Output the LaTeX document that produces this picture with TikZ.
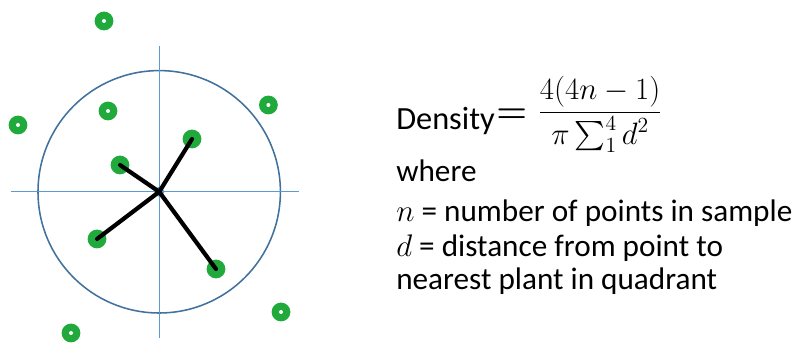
\RequirePackage{fix-cm}
\documentclass[tikz,border=0pt]{standalone}
\usepackage[no-math]{fontspec}
\setmainfont{Carlito}
\usepackage{amsmath}
\definecolor{plantgreen}{RGB}{32,170,60}
\definecolor{axisblue}{RGB}{91,155,213}
\definecolor{ringblue}{RGB}{65,113,156}
\tikzset{
	plant/.style={circle, fill=plantgreen, minimum size=0.47cm, inner sep=0pt,
		path picture={\fill[white] (path picture bounding box.center) circle (0.05cm);}},
	dist/.style={line width=3pt, line cap=round},
	txt/.style={anchor=base west, inner sep=0pt, font=\fontsize{22.2}{27}\selectfont},
	mth/.style={inner sep=0pt, font=\fontsize{22}{27}\selectfont}
}

\begin{document}
\begin{tikzpicture}
	\useasboundingbox (0,0) rectangle (19.825,8.575);
	% sample circle and quadrants
	\draw[ringblue, line width=1.1pt] (3.98,3.78) circle (3.03);
	\draw[axisblue, line width=0.9pt] (0.275,3.78)--(7.475,3.78);
	\draw[axisblue, line width=0.9pt] (3.98,0.125)--(3.98,7.43);
	\node[circle, fill=axisblue, inner sep=0pt, minimum size=0.25cm] (c) at (3.98,3.78) {};
	% plants
	\foreach \n/\x/\y in {a/2.6/8.05, b/2.7/5.8, e/0.45/5.45, f/6.71/5.95,
			q1/4.8/5.1, q2/3.0/4.45, q3/2.425/2.6, q4/5.4/1.85,
			g/7.025/0.775, h/1.775/0.25}
		\node[plant] (\n) at (\x,\y) {};
	% nearest plant in each quadrant
	\foreach \n in {q1, q2, q3, q4}
		\draw[dist] (c.center)--(\n.center);
	
	\node[txt, font=\fontsize{23}{28}\selectfont] (density) at (9.9, 5.325) {Density};
	\node[mth, anchor=base west, font=\fontsize{25}{30}\selectfont] (eq) at (12.4, 5.5) {$\boldsymbol{=}$};
	\node[mth, anchor=west] (frac) at (13.45, 5.725)
		{$\displaystyle\frac{4(4n-1)}{\pi\textstyle\sum_1^4 d^2}$};
	\node[txt] (where) at (9.9, 4.03) {where};
	\node[txt] (nline) at (9.9, 3.03) {$n$ = number of points in sample};
	\node[txt] (dline) at (9.9, 2.16) {$d$ = distance from point to};
	\node[txt] (nearest) at (9.9, 1.325) {nearest plant in quadrant};
\end{tikzpicture}
\end{document}
